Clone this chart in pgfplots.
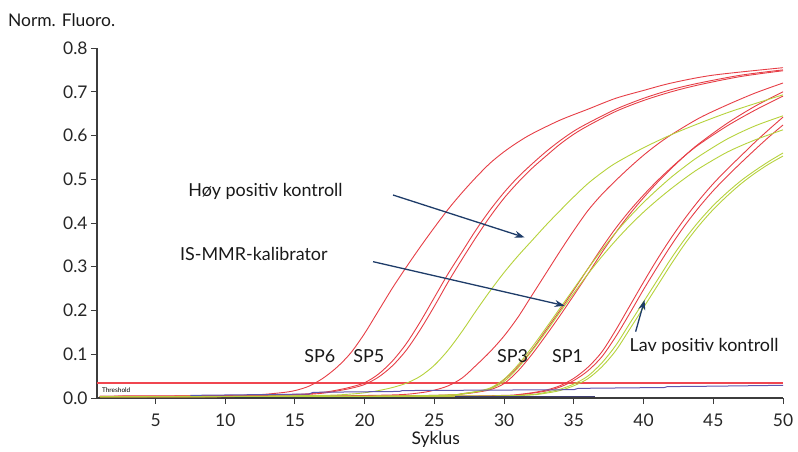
\documentclass[border=0pt]{standalone}
\usepackage{fontspec}
\setmainfont{Lato}
\usepackage{pgfplots}
\pgfplotsset{compat=1.18}
\usetikzlibrary{arrows.meta}
\definecolor{cred}{RGB}{230,62,70}
\definecolor{cgreen}{RGB}{182,210,60}
\definecolor{cnavy}{RGB}{30,60,105}
\definecolor{cblue}{RGB}{95,85,175}
\definecolor{cdark}{RGB}{60,60,110}
\definecolor{caxis}{RGB}{60,60,60}
\begin{document}
\begin{tikzpicture}
\useasboundingbox (-97bp,-54bp) rectangle (701bp,398bp);
\begin{axis}[
  scale only axis, width=686bp, height=350bp,
  xmin=0.8, xmax=50, ymin=0, ymax=0.8,
  axis x line=bottom, axis y line=left,
  axis line style={-, caxis, line width=1.1bp},
  xtick={5,10,15,20,25,30,35,40,45,50},
  ytick={0,0.1,0.2,0.3,0.4,0.5,0.6,0.7,0.8},
  tick align=outside, major tick length=6bp,
  tick style={caxis, line width=1bp},
  every tick label/.append style={font=\fontsize{17.5}{20}\selectfont, text=black!85},
  xticklabel style={yshift=-6bp},
  /pgf/number format/assume math mode=true,
  yticklabel style={/pgf/number format/.cd, fixed, fixed zerofill, precision=1},
  clip=false,
  every axis plot/.append style={no marks, smooth, line width=0.9bp},
]
% threshold
\addplot[color={rgb,255:red,240;green,70;blue,80}, sharp plot, line width=1.3bp] coordinates {(0.8,0.034)(25,0.034)(50,0.034)};
% SP6
\addplot[cred] coordinates {(1,0.004)(8,0.005)(12,0.007)(14,0.012)(15,0.017)(16,0.027)(17,0.045)(18,0.07)(19,0.103)(20,0.148)(21,0.2)(22,0.252)(23,0.3)(24,0.346)(25,0.39)(26,0.432)(27,0.47)(28,0.505)(29,0.537)(30,0.563)(31,0.585)(32,0.604)(34,0.635)(36,0.66)(38,0.685)(40,0.703)(42,0.72)(45,0.738)(50,0.755)};
% SP5 a
\addplot[cred] coordinates {(1,0.004)(10,0.005)(15,0.008)(17,0.013)(18,0.018)(19,0.025)(20,0.035)(21,0.055)(22,0.085)(23,0.125)(24,0.175)(25,0.23)(26,0.285)(27,0.335)(28,0.385)(29,0.43)(30,0.47)(31,0.505)(32,0.535)(33,0.563)(34,0.588)(35,0.61)(36,0.628)(38,0.66)(40,0.685)(42,0.705)(44,0.72)(47,0.738)(50,0.75)};
% SP5 b
\addplot[cred] coordinates {(1,0.004)(10,0.005)(15,0.007)(17,0.011)(18,0.016)(19,0.022)(20,0.031)(21,0.048)(22,0.074)(23,0.11)(24,0.157)(25,0.21)(26,0.266)(27,0.318)(28,0.368)(29,0.415)(30,0.457)(31,0.493)(32,0.525)(33,0.553)(34,0.58)(35,0.603)(36,0.622)(38,0.655)(40,0.68)(42,0.7)(44,0.716)(47,0.735)(50,0.748)};
% SP4
\addplot[cred] coordinates {(1,0.003)(15,0.004)(22,0.007)(24,0.012)(25,0.018)(26,0.028)(27,0.046)(28,0.075)(29,0.106)(30,0.142)(31,0.185)(32,0.235)(33,0.285)(34,0.335)(35,0.383)(36,0.428)(37,0.465)(38,0.497)(39,0.527)(40,0.555)(41,0.58)(42,0.602)(44,0.64)(46,0.67)(48,0.697)(50,0.72)};
% SP3 a
\addplot[cred] coordinates {(1,0.003)(20,0.004)(26,0.007)(27,0.01)(28,0.014)(29,0.021)(30,0.042)(31,0.072)(32,0.11)(33,0.155)(34,0.2)(35,0.247)(36,0.295)(37,0.343)(38,0.388)(39,0.428)(40,0.464)(41,0.497)(42,0.527)(43,0.555)(44,0.58)(46,0.622)(48,0.658)(50,0.69)};
% SP3 b
\addplot[cred] coordinates {(1,0.003)(20,0.004)(26,0.006)(27,0.009)(28,0.013)(29,0.019)(30,0.033)(31,0.062)(32,0.1)(33,0.143)(34,0.188)(35,0.235)(36,0.283)(37,0.332)(38,0.378)(39,0.42)(40,0.458)(41,0.493)(42,0.525)(43,0.555)(44,0.582)(46,0.628)(48,0.667)(50,0.70)};
% SP1 a
\addplot[cred] coordinates {(1,0.003)(25,0.004)(30,0.006)(31,0.008)(32,0.012)(33,0.018)(34,0.028)(35,0.045)(36,0.07)(37,0.105)(38,0.155)(39,0.21)(40,0.265)(41,0.318)(42,0.367)(43,0.412)(44,0.453)(45,0.49)(46,0.523)(47,0.554)(48,0.585)(49,0.614)(50,0.642)};
% SP1 b
\addplot[cred] coordinates {(1,0.003)(25,0.004)(30,0.005)(31,0.007)(32,0.011)(33,0.016)(34,0.025)(35,0.04)(36,0.062)(37,0.094)(38,0.14)(39,0.193)(40,0.248)(41,0.3)(42,0.35)(43,0.396)(44,0.437)(45,0.474)(46,0.507)(47,0.538)(48,0.568)(49,0.597)(50,0.624)};
% Hoy positiv kontroll
\addplot[cgreen] coordinates {(1,0.003)(10,0.004)(17,0.006)(19,0.009)(20,0.012)(21,0.017)(22,0.024)(23,0.034)(24,0.05)(25,0.075)(26,0.11)(27,0.153)(28,0.2)(29,0.245)(30,0.287)(31,0.325)(32,0.36)(33,0.395)(34,0.428)(35,0.46)(36,0.49)(37,0.515)(38,0.537)(40,0.572)(42,0.602)(44,0.628)(46,0.652)(48,0.673)(50,0.693)};
% IS-MMR a
\addplot[cgreen] coordinates {(1,0.003)(20,0.004)(26,0.007)(27,0.01)(28,0.015)(29,0.023)(30,0.043)(31,0.076)(32,0.116)(33,0.16)(34,0.205)(35,0.25)(36,0.295)(37,0.338)(38,0.378)(39,0.414)(40,0.447)(41,0.477)(42,0.505)(43,0.53)(44,0.553)(46,0.592)(48,0.622)(50,0.645)};
% IS-MMR b
\addplot[cgreen] coordinates {(1,0.003)(20,0.004)(26,0.006)(27,0.009)(28,0.014)(29,0.021)(30,0.038)(31,0.069)(32,0.108)(33,0.151)(34,0.196)(35,0.24)(36,0.283)(37,0.323)(38,0.36)(39,0.394)(40,0.425)(41,0.453)(42,0.479)(43,0.503)(44,0.525)(46,0.562)(48,0.59)(50,0.613)};
% Lav a
\addplot[cgreen] coordinates {(1,0.003)(25,0.004)(30,0.005)(32,0.008)(33,0.013)(34,0.02)(35,0.032)(36,0.05)(37,0.08)(38,0.12)(39,0.17)(40,0.22)(41,0.27)(42,0.32)(43,0.365)(44,0.405)(45,0.44)(46,0.47)(47,0.497)(48,0.52)(49,0.541)(50,0.56)};
% Lav b
\addplot[cgreen] coordinates {(1,0.003)(25,0.004)(30,0.005)(32,0.007)(33,0.011)(34,0.017)(35,0.028)(36,0.044)(37,0.071)(38,0.108)(39,0.157)(40,0.207)(41,0.257)(42,0.307)(43,0.354)(44,0.395)(45,0.431)(46,0.462)(47,0.49)(48,0.514)(49,0.535)(50,0.553)};
% baseline lines
\addplot[cblue, sharp plot, line width=1bp] coordinates {(7.5,0.006)(16,0.009)(16.3,0.013)(22.5,0.015)(22.7,0.017)(35,0.019)(35.3,0.022)(41.5,0.024)(41.7,0.026)(45,0.027)(50,0.029)};
\addplot[cdark, sharp plot, line width=1.4bp] coordinates {(26.5,0.004)(36.5,0.004)};
\node[anchor=west, inner sep=0pt, font=\fontsize{6.5}{7}\selectfont] at (axis cs:1.15,0.019) {Threshold};
% annotations
\begin{scope}[every node/.style={font=\fontsize{18}{21}\selectfont, text=black!90, inner sep=0pt}]
\node[anchor=base east] at (axis cs:18.43,0.460) {Høy positiv kontroll};
\node[anchor=base east] at (axis cs:17.35,0.3154) {IS-MMR-kalibrator};
\node[anchor=base west] at (axis cs:38.99,0.106) {Lav positiv kontroll};
\node[anchor=base] at (axis cs:16.78,0.0807) {SP6};
\node[anchor=base] at (axis cs:20.3,0.0807) {SP5};
\node[anchor=base] at (axis cs:30.6,0.0807) {SP3};
\node[anchor=base] at (axis cs:34.55,0.0807) {SP1};
\node[anchor=base, font=\fontsize{17.5}{20}\selectfont] at (axis cs:25.09,-0.1074) {Syklus};
\node[anchor=base west, font=\fontsize{17.5}{20}\selectfont] at (axis cs:-5.59,0.8487) {Norm. Fluoro.};
\end{scope}
\draw[cnavy, line width=1.3bp, -{Stealth[length=10bp,width=7bp]}] (axis cs:22.03,0.464) -- (axis cs:31.47,0.367);
\draw[cnavy, line width=1.3bp, -{Stealth[length=10bp,width=7bp]}] (axis cs:20.6,0.3116) -- (axis cs:34.34,0.211);
\draw[cnavy, line width=1.3bp, -{Stealth[length=10bp,width=7bp]}] (axis cs:39.43,0.1516) -- (axis cs:40.07,0.224);
\end{axis}
\end{tikzpicture}
\end{document}
